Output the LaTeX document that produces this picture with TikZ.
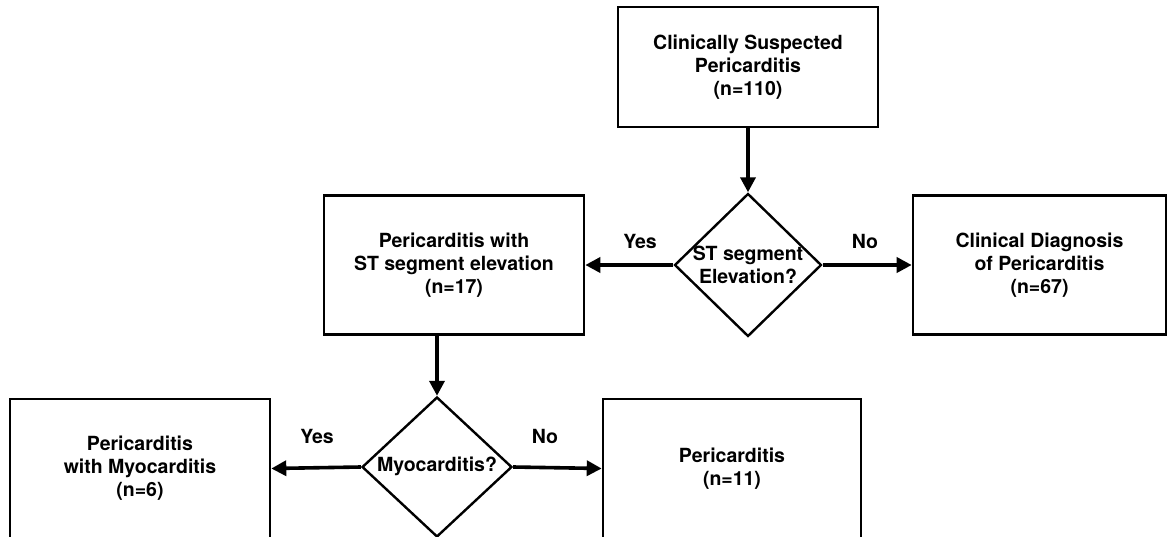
\documentclass[tikz,border=0pt]{standalone}
\usepackage{fontspec}
\setmainfont{TeX Gyre Heros}
\usetikzlibrary{shapes.geometric,arrows.meta}
\begin{document}
\begin{tikzpicture}[x=1pt,y=-1pt,
  every node/.style={font=\fontsize{19.5}{23}\selectfont\bfseries},
  box/.style={draw,line width=2.6pt,rectangle,align=center,inner sep=0pt},
  dia/.style={draw,line width=2.4pt,diamond,aspect=1,inner sep=0pt},
  lbl/.style={align=center,inner sep=0pt},
  conn/.style={line width=3.6pt,-{Triangle[length=15pt,width=15pt]}}]
\useasboundingbox (0,0) rectangle (1168,536);
\node[box,minimum width=260pt,minimum height=120pt] (top) at (748,67) {Clinically Suspected\\Pericarditis\\(n=110)};
\node[dia,minimum width=147pt,minimum height=143pt] (d1) at (748,265) {};
\node[lbl] (d1t) at (748,265) {ST segment\\Elevation?};
\node[box,minimum width=260pt,minimum height=139pt] (lm) at (454,265) {Pericarditis with\\ST segment elevation\\(n=17)};
\node[box,minimum width=253pt,minimum height=139pt] (rm) at (1039.5,265) {Clinical Diagnosis\\of Pericarditis\\(n=67)};
\node[dia,minimum width=150pt,minimum height=140pt] (d2) at (437,467) {};
\node[lbl] (d2t) at (437,466) {Myocarditis?};
\node[box,minimum width=260pt,minimum height=139pt] (bl) at (140,468.5) {Pericarditis\\with Myocarditis\\(n=6)};
\node[box,minimum width=258pt,minimum height=139pt] (br) at (732,468.5) {Pericarditis\\(n=11)};
\node[lbl] (y1) at (640,241) {Yes};
\node[lbl] (n1) at (865,241) {No};
\node[lbl] (y2) at (317,436) {Yes};
\node[lbl] (n2) at (545,436) {No};
\draw[conn] (top.south) -- (d1.north);
\draw[conn] (d1.west) -- (lm.east);
\draw[conn] (d1.east) -- (rm.west);
\draw[conn] (d2.north |- lm.south) -- (d2.north);
\draw[conn] (d2.west) -- (bl.east);
\draw[conn] (d2.east) -- (br.west);
\end{tikzpicture}
\end{document}
